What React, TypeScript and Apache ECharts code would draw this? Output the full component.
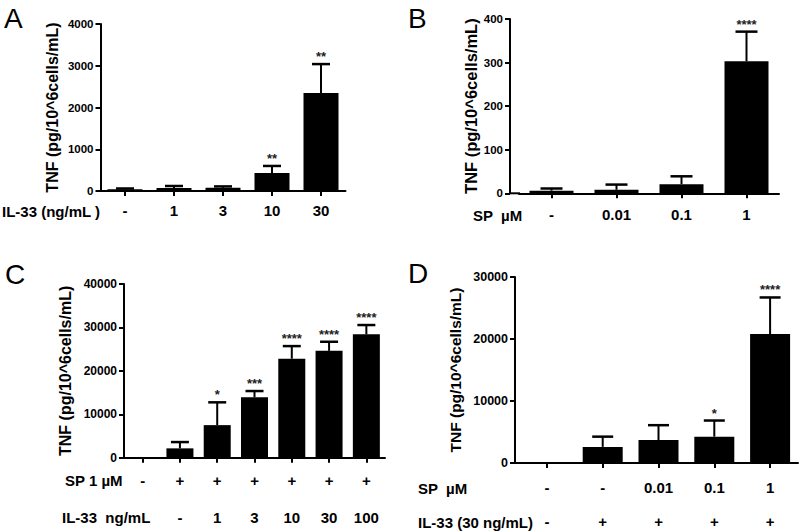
import React, { useEffect, useRef } from "react";
import * as echarts from "echarts";

// ---------- Data ----------
const yTitle = "TNF (pg/10^6cells/mL)";

// Panel A
const catsA = ["-", "1", "3", "10", "30"];
const meanA = [40, 70, 80, 430, 2350];
const errA = [60, 120, 110, 600, 3040];
const starsA = ["", "", "", "**", "**"];
const rowLabelA = "IL-33 (ng/mL )";

// Panel B
const catsB = ["-", "0.01", "0.1", "1"];
const meanB = [6, 8, 21, 303];
const errB = [11, 20, 39, 371];
const starsB = ["", "", "", "****"];
const rowLabelB = "SP  µM";

// Panel C
const catsC_SP = ["-", "+", "+", "+", "+", "+", "+"];
const catsC_IL = ["", "-", "1", "3", "10", "30", "100"];
const meanC = [0, 2150, 7500, 13900, 22800, 24600, 28400];
const errC = [0, 3600, 12750, 15350, 25700, 26700, 30550];
const starsC = ["", "", "*", "***", "****", "****", "****"];
const rowLabelC1 = "SP 1 µM";
const rowLabelC2 = "IL-33  ng/mL";

// Panel D
const catsD_SP = ["-", "-", "0.01", "0.1", "1"];
const catsD_IL = ["-", "+", "+", "+", "+"];
const meanD = [0, 2600, 3700, 4250, 20800];
const errD = [0, 4250, 6100, 6850, 26700];
const starsD = ["", "", "", "*", "****"];
const rowLabelD1 = "SP  µM";
const rowLabelD2 = "IL-33 (30 ng/mL)";

const FONT = "'Liberation Sans', Arial, Helvetica, sans-serif";

type PanelCfg = {
  grid: { left: number; top: number; width: number; height: number };
  yMax: number;
  yInterval: number;
  yOffset: number;
  nameGap: number;
  nameSize: number;
  tickSize: number;
  barWidth: number;
  capWidth: number;
  labelMargin: number;
};

const panels: PanelCfg[] = [
  { grid: { left: 100.5, top: 24, width: 245, height: 167 }, yMax: 4000, yInterval: 1000, yOffset: 0, nameGap: 40, nameSize: 16, tickSize: 11.5, barWidth: 35, capWidth: 18, labelMargin: 12 },
  { grid: { left: 519, top: 19, width: 260, height: 174.3 }, yMax: 400, yInterval: 100, yOffset: 9, nameGap: 28, nameSize: 16.5, tickSize: 11.5, barWidth: 44, capWidth: 22, labelMargin: 14 },
  { grid: { left: 124, top: 284, width: 261, height: 173.7 }, yMax: 40000, yInterval: 10000, yOffset: 0, nameGap: 51, nameSize: 16, tickSize: 12, barWidth: 27, capWidth: 18, labelMargin: 15 },
  { grid: { left: 519, top: 277, width: 279, height: 186 }, yMax: 30000, yInterval: 10000, yOffset: 4, nameGap: 52, nameSize: 15.5, tickSize: 12.5, barWidth: 40, capWidth: 21, labelMargin: 17 },
];

const means = [meanA, meanB, meanC, meanD];
const errs = [errA, errB, errC, errD];
const stars = [starsA, starsB, starsC, starsD];
const firstCats = [catsA, catsB, catsC_SP, catsD_SP];

export default function App() {
  const ref = useRef<HTMLDivElement>(null);
  useEffect(() => {
    if (!ref.current) return;
    const chart = echarts.init(ref.current, null, { renderer: "svg" });

    const axisLine = { show: true, lineStyle: { color: "#000", width: 2 } };

    const grids = panels.map((p) => ({ ...p.grid, containLabel: false, outerBoundsMode: "none" }));

    const xAxes: any[] = [];
    panels.forEach((p, k) => {
      xAxes.push({
        gridIndex: k,
        type: "category",
        data: firstCats[k],
        axisLine,
        axisTick: { show: true, alignWithLabel: true, length: 5, lineStyle: { color: "#000", width: 2 } },
        axisLabel: { interval: 0, color: "#000", fontWeight: "bold", fontSize: 15, fontFamily: FONT, margin: p.labelMargin },
        splitLine: { show: false },
      });
    });
    // second label rows for C and D
    xAxes.push({
      gridIndex: 2,
      type: "category",
      data: catsC_IL,
      position: "bottom",
      offset: 37,
      axisLine: { show: false },
      axisTick: { show: false },
      axisLabel: { interval: 0, color: "#000", fontWeight: "bold", fontSize: 15, fontFamily: FONT, margin: 15 },
    });
    xAxes.push({
      gridIndex: 3,
      type: "category",
      data: catsD_IL,
      position: "bottom",
      offset: 34,
      axisLine: { show: false },
      axisTick: { show: false },
      axisLabel: { interval: 0, color: "#000", fontWeight: "bold", fontSize: 15, fontFamily: FONT, margin: 17 },
    });

    const yAxes = panels.map((p, k) => ({
      gridIndex: k,
      type: "value",
      min: 0,
      max: p.yMax,
      interval: p.yInterval,
      offset: p.yOffset,
      axisLine,
      axisTick: { show: true, length: 5, lineStyle: { color: "#000", width: 2 } },
      axisLabel: {
        color: "#000",
        fontWeight: "bold",
        fontSize: p.tickSize,
        fontFamily: FONT,
        margin: 7,
        formatter: (v: number) => String(v),
      },
      splitLine: { show: false },
      name: yTitle,
      nameLocation: "middle",
      nameGap: p.nameGap,
      nameTextStyle: { color: "#000", fontWeight: "bold", fontSize: p.nameSize, fontFamily: FONT },
    }));

    const series: any[] = [];
    panels.forEach((p, k) => {
      series.push({
        type: "bar",
        xAxisIndex: k,
        yAxisIndex: k,
        data: means[k],
        barWidth: p.barWidth,
        itemStyle: { color: "#000" },
        silent: true,
      });
      const starArr = stars[k];
      series.push({
        type: "custom",
        xAxisIndex: k,
        yAxisIndex: k,
        data: means[k].map((m, i) => [i, m, errs[k][i]]),
        encode: { x: 0, y: [1, 2] },
        silent: true,
        renderItem: (params: any, api: any) => {
          const i = api.value(0);
          const m = api.value(1);
          const e = api.value(2);
          const star = starArr[params.dataIndex];
          if (!e) return { type: "group", children: [] };
          const p0 = api.coord([i, m]);
          const p1 = api.coord([i, e]);
          const cw = p.capWidth;
          return {
            type: "group",
            children: [
              { type: "line", shape: { x1: p0[0], y1: p0[1], x2: p1[0], y2: p1[1] }, style: { stroke: "#000", lineWidth: 2 } },
              { type: "line", shape: { x1: p1[0] - cw / 2, y1: p1[1], x2: p1[0] + cw / 2, y2: p1[1] }, style: { stroke: "#000", lineWidth: 2.5 } },
              {
                type: "text",
                x: p1[0],
                y: p1[1] - 1,
                style: { text: star, textAlign: "center", textVerticalAlign: "bottom", fontSize: 13, fontWeight: "bold", fontFamily: FONT, fill: "#222" },
              },
            ],
          };
        },
      });
    });

    const txt = (text: string, x: number, y: number, size: number, weight = "bold") => ({
      type: "text",
      x,
      y,
      silent: true,
      style: { text, fontSize: size, fontWeight: weight, fontFamily: FONT, fill: "#000", textVerticalAlign: "middle" },
    });

    const graphic: any[] = [
      txt("A", 4, 18, 28, "normal"),
      txt("B", 408, 18, 28, "normal"),
      txt("C", 5, 274, 28, "normal"),
      txt("D", 408, 273, 28, "normal"),
      txt(rowLabelA, 2, 211, 15),
      txt(rowLabelB, 473, 215, 15),
      txt(rowLabelC1, 65, 480, 15),
      txt(rowLabelC2, 62, 517, 15),
      txt(rowLabelD1, 418, 488, 15),
      txt(rowLabelD2, 418, 522, 15),
      // x-axis line extensions to the offset y axes
      { type: "line", silent: true, shape: { x1: 510, y1: 193.3, x2: 520, y2: 193.3 }, style: { stroke: "#000", lineWidth: 2 } },
      { type: "line", silent: true, shape: { x1: 515, y1: 463, x2: 520, y2: 463 }, style: { stroke: "#000", lineWidth: 2 } },
    ];

    chart.setOption({
      animation: false,
      backgroundColor: "#fff",
      grid: grids,
      xAxis: xAxes,
      yAxis: yAxes,
      series,
      graphic,
    });
    return () => chart.dispose();
  }, []);
  return <div ref={ref} style={{ position: "absolute", left: 0, top: 0, width: 802, height: 532 }} />;
}
